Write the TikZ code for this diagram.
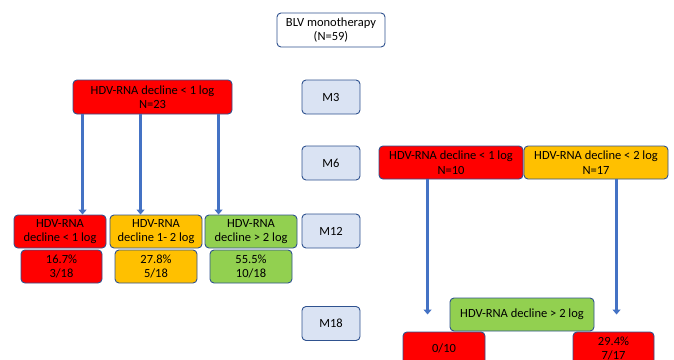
\documentclass[tikz,border=0pt]{standalone}
\usepackage{fontspec}
\setmainfont{Carlito}
\usetikzlibrary{positioning,arrows.meta}
\definecolor{boxred}{RGB}{255,0,0}
\definecolor{boxamber}{RGB}{255,192,0}
\definecolor{boxgreen}{RGB}{146,208,80}
\definecolor{monthbg}{RGB}{218,227,243}
\definecolor{edgeblue}{RGB}{47,82,143}
\definecolor{arrowblue}{RGB}{68,114,196}

\begin{document}
\begin{tikzpicture}[x=1pt,y=-1pt,
  card/.style={rectangle,rounded corners=4pt,draw=edgeblue,line width=0.9pt,
    font=\fontsize{12.5}{14.5}\selectfont,align=center,inner sep=0pt,minimum height=33pt},
  redcard/.style={card,fill=boxred},
  ambercard/.style={card,fill=boxamber},
  greencard/.style={card,fill=boxgreen},
  month/.style={card,fill=monthbg,minimum width=58pt,minimum height=34pt},
  flow/.style={draw=arrowblue,line width=2.6pt,-{Triangle[length=5pt,width=8pt]}}]
\clip (0,0) rectangle (674,359);

% start and months
\node[card,fill=white,minimum width=108pt,minimum height=34pt] (blv) at (331,30) {BLV monotherapy\\(N=59)};
\node[month] (m3) at (331,97) {M3};
\node[month] (m6) at (331,163) {M6};
\node[month] (m12) at (331,231) {M12};
\node[month] (m18) at (331,323.5) {M18};

% left branch
\node[redcard,minimum width=159pt,minimum height=34pt] (n23) at (152.5,97) {HDV-RNA decline < 1 log\\N=23};
\node[redcard,minimum width=92pt] (low) at (60,231.5) {HDV-RNA\\decline < 1 log};
\node[redcard,minimum width=81pt] (lowpct) at (61.5,266.5) {16.7\%\\3/18};
\node[ambercard,minimum width=92pt] (mid) at (156,231.5) {HDV-RNA\\decline 1- 2 log};
\node[ambercard,minimum width=82pt] (midpct) at (156,266.5) {27.8\%\\5/18};
\node[greencard,minimum width=92pt] (high) at (251,231.5) {HDV-RNA\\decline > 2 log};
\node[greencard,minimum width=82pt] (highpct) at (251,266.5) {55.5\%\\10/18};

\draw[flow] ([xshift=10pt]n23.south west) -- ([xshift=10pt]n23.south west |- low.north);
\draw[flow] ([xshift=68pt]n23.south west) -- ([xshift=68pt]n23.south west |- mid.north);
\draw[flow] ([xshift=146pt]n23.south west) -- ([xshift=146pt]n23.south west |- high.north);

% right branch
\node[redcard,minimum width=144pt] (n10) at (451,162.5) {HDV-RNA decline < 1 log\\N=10};
\node[ambercard,minimum width=144pt] (n17) at (596,162.5) {HDV-RNA decline < 2 log\\N=17};
\node[greencard,minimum width=144pt] (gain) at (522,314.5) {HDV-RNA decline > 2 log};
\node[redcard,minimum width=82pt] (pct10) at (444,348.5) {0/10};
\node[redcard,minimum width=81pt] (pct17) at (613.5,348.5) {29.4\%\\7/17};

\draw[flow] ([xshift=49pt]n10.south west) -- ([xshift=49pt]n10.south west |- gain.center);
\draw[flow] ([xshift=93pt]n17.south west) -- ([xshift=93pt]n17.south west |- gain.center);
\end{tikzpicture}
\end{document}
